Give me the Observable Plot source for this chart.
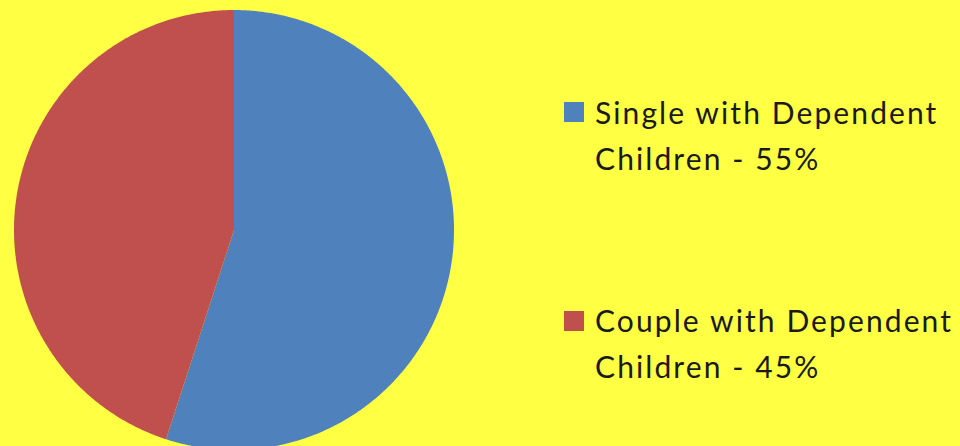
<!DOCTYPE html>
<html>
<head>
<meta charset="utf-8">
<script src="https://cdn.jsdelivr.net/npm/d3@7"></script>
<script src="https://cdn.jsdelivr.net/npm/@observablehq/plot@0.6"></script>
<style>
  html, body { margin: 0; padding: 0; background: #FFFF44; }
  #wrap { position: relative; width: 960px; height: 446px; overflow: hidden; background: #FFFF44; }
  #chart { position: absolute; left: 0; top: 0; }
  .leg { position: absolute; font-family: Lato, "Open Sans", sans-serif; font-size: 30px; letter-spacing: 2.1px; line-height: 46px; color: #1a1a1a; white-space: nowrap; }
  .sw { position: absolute; width: 20px; height: 20px; }
</style>
</head>
<body>
<div id="wrap"><div id="chart"></div></div>
<script>
// Data
const categories = ["Single with Dependent Children", "Couple with Dependent Children"];
const values = [55, 45];
const colors = ["#4F81BD", "#C0504D"];
const legendLines = [["Single with Dependent", "Children - 55%"], ["Couple with Dependent", "Children - 45%"]];

// Pie geometry via d3.pie (angles clockwise from 12 o'clock)
const arcs = d3.pie().sort(null).value(d => d)(values);
const slices = arcs.map((a, i) => {
  const pts = [{x: 0, y: 0}];
  const n = Math.max(2, Math.ceil((a.endAngle - a.startAngle) / (Math.PI / 360)));
  for (let k = 0; k <= n; k++) {
    const t = a.startAngle + (a.endAngle - a.startAngle) * k / n;
    pts.push({x: Math.sin(t), y: Math.cos(t)});
  }
  pts.push({x: 0, y: 0});
  return {cat: categories[i], pts};
});

const cx = 233.5, cy = 229.5, r = 220;
const chart = Plot.plot({
  width: 960,
  height: 446,
  margin: 0,
  style: {background: "#FFFF44", overflow: "visible"},
  x: {domain: [-1, 1], range: [cx - r, cx + r], axis: null},
  y: {domain: [-1, 1], range: [cy + r, cy - r], axis: null},
  color: {domain: categories, range: colors},
  marks: slices.map(s => Plot.line(s.pts, {x: "x", y: "y", fill: colors[categories.indexOf(s.cat)], stroke: "none", curve: "linear"}))
});
document.getElementById("chart").appendChild(chart);

// Legend
const wrap = document.getElementById("wrap");
const legendTops = [89, 297];
const swatchTops = [102, 311];
categories.forEach((c, i) => {
  const sw = document.createElement("div");
  sw.className = "sw";
  sw.style.left = "564px";
  sw.style.top = swatchTops[i] + "px";
  sw.style.background = colors[i];
  wrap.appendChild(sw);
  const t = document.createElement("div");
  t.className = "leg";
  t.style.left = "595px";
  t.style.top = legendTops[i] + "px";
  t.innerHTML = legendLines[i].join("<br>");
  wrap.appendChild(t);
});
</script>
</body>
</html>
